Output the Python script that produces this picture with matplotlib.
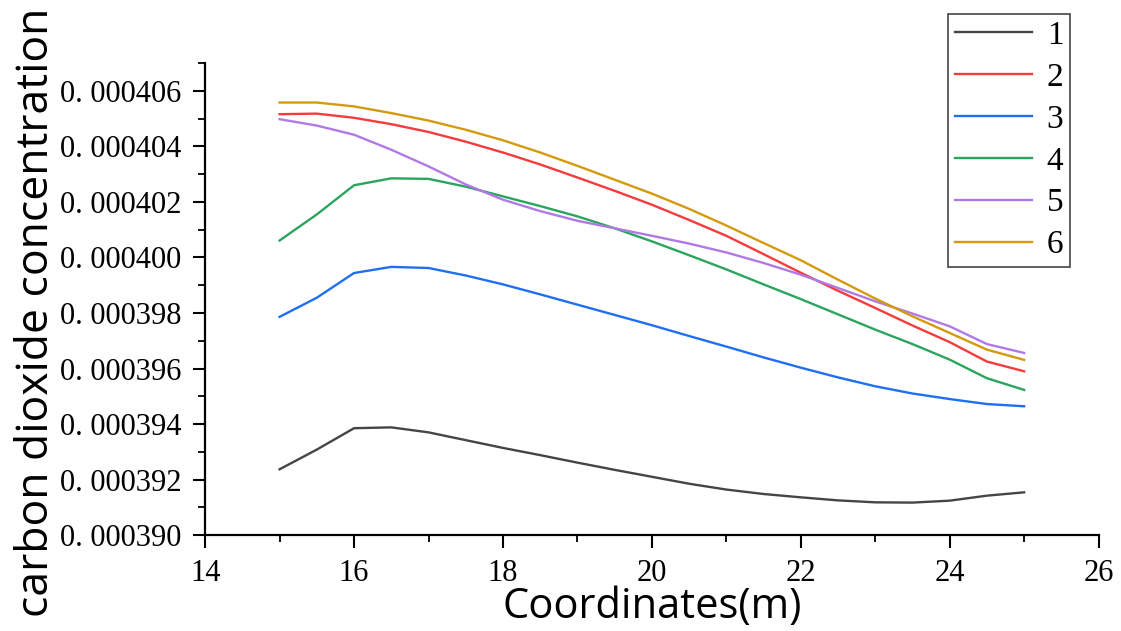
import matplotlib
matplotlib.use("Agg")
import matplotlib.pyplot as plt
from matplotlib.ticker import MultipleLocator, FuncFormatter

# Sample positions along the line (m)
x = [15, 15.5, 16, 16.5, 17, 17.5, 18, 18.5, 19, 19.5, 20,
     20.5, 21, 21.5, 22, 22.5, 23, 23.5, 24, 24.5, 25]

# CO2 concentration per case, in units of 1e-6
case1 = [392.37, 393.08, 393.85, 393.88, 393.70, 393.42, 393.14, 392.88, 392.61, 392.35, 392.10,
         391.85, 391.64, 391.48, 391.36, 391.25, 391.18, 391.17, 391.24, 391.42, 391.54]
case2 = [405.16, 405.18, 405.03, 404.80, 404.52, 404.17, 403.78, 403.35, 402.88, 402.40, 401.90,
         401.35, 400.78, 400.12, 399.45, 398.80, 398.18, 397.55, 396.95, 396.25, 395.90]
case3 = [397.86, 398.55, 399.44, 399.66, 399.62, 399.35, 399.03, 398.67, 398.30, 397.93, 397.56,
         397.17, 396.79, 396.40, 396.03, 395.68, 395.36, 395.10, 394.90, 394.72, 394.64]
case4 = [400.61, 401.55, 402.60, 402.85, 402.83, 402.55, 402.20, 401.85, 401.48, 401.05, 400.58,
         400.08, 399.57, 399.03, 398.50, 397.95, 397.40, 396.88, 396.32, 395.65, 395.23]
case5 = [404.98, 404.75, 404.42, 403.88, 403.28, 402.63, 402.08, 401.67, 401.32, 401.05, 400.78,
         400.50, 400.18, 399.80, 399.38, 398.90, 398.42, 397.98, 397.52, 396.88, 396.56]
case6 = [405.58, 405.58, 405.44, 405.20, 404.93, 404.60, 404.22, 403.78, 403.30, 402.80, 402.30,
         401.75, 401.15, 400.52, 399.90, 399.20, 398.52, 397.88, 397.28, 396.68, 396.31]

labels = ["1", "2", "3", "4", "5", "6"]
colors = ["#454545", "#f53b3b", "#1f6ff2", "#2aa55e", "#b07ae6", "#d49a0c"]
SCALE = 1e-6

fig = plt.figure(figsize=(11.21, 6.31), dpi=100)
ax = fig.add_axes([0.183, 0.152, 0.797, 0.748])

for ys, lab, c in zip([case1, case2, case3, case4, case5, case6], labels, colors):
    ax.plot(x, [v * SCALE for v in ys], color=c, lw=1.7, label=lab)

ax.set_xlim(14, 26)
ax.set_ylim(0.000390, 0.000407)
ax.xaxis.set_major_locator(MultipleLocator(2))
ax.xaxis.set_minor_locator(MultipleLocator(1))
ax.yaxis.set_major_locator(MultipleLocator(0.000002))
ax.yaxis.set_minor_locator(MultipleLocator(0.000001))
ax.yaxis.set_major_formatter(FuncFormatter(lambda v, p: "0. " + f"{v:.6f}"[2:]))

for side in ("top", "right"):
    ax.spines[side].set_visible(False)
for side in ("left", "bottom"):
    ax.spines[side].set_linewidth(1.6)

ax.tick_params(which="major", direction="out", length=9, width=1.5, labelsize=22)
ax.tick_params(axis="y", which="major", pad=8)
ax.tick_params(axis="x", which="major", pad=8)
ax.tick_params(which="minor", direction="out", length=5, width=1.3)
for t in ax.get_xticklabels() + ax.get_yticklabels():
    t.set_fontfamily("Liberation Serif")

ax.set_xlabel("Coordinates(m)", fontsize=30, family="Open Sans", labelpad=-1)
ax.set_ylabel("carbon dioxide concentration", fontsize=32, family="Open Sans")
ax.yaxis.set_label_coords(-0.164, 0.472)

leg = fig.legend(loc="upper left", bbox_to_anchor=(0.846, 0.978), fancybox=False,
                 edgecolor="#444444", framealpha=1, prop={"family": "Liberation Serif", "size": 24},
                 handlelength=2.3, labelspacing=0.34, borderpad=0.2, handletextpad=0.45,
                 borderaxespad=0)
leg.get_frame().set_linewidth(1.2)

fig.savefig("out.png", dpi=100)
